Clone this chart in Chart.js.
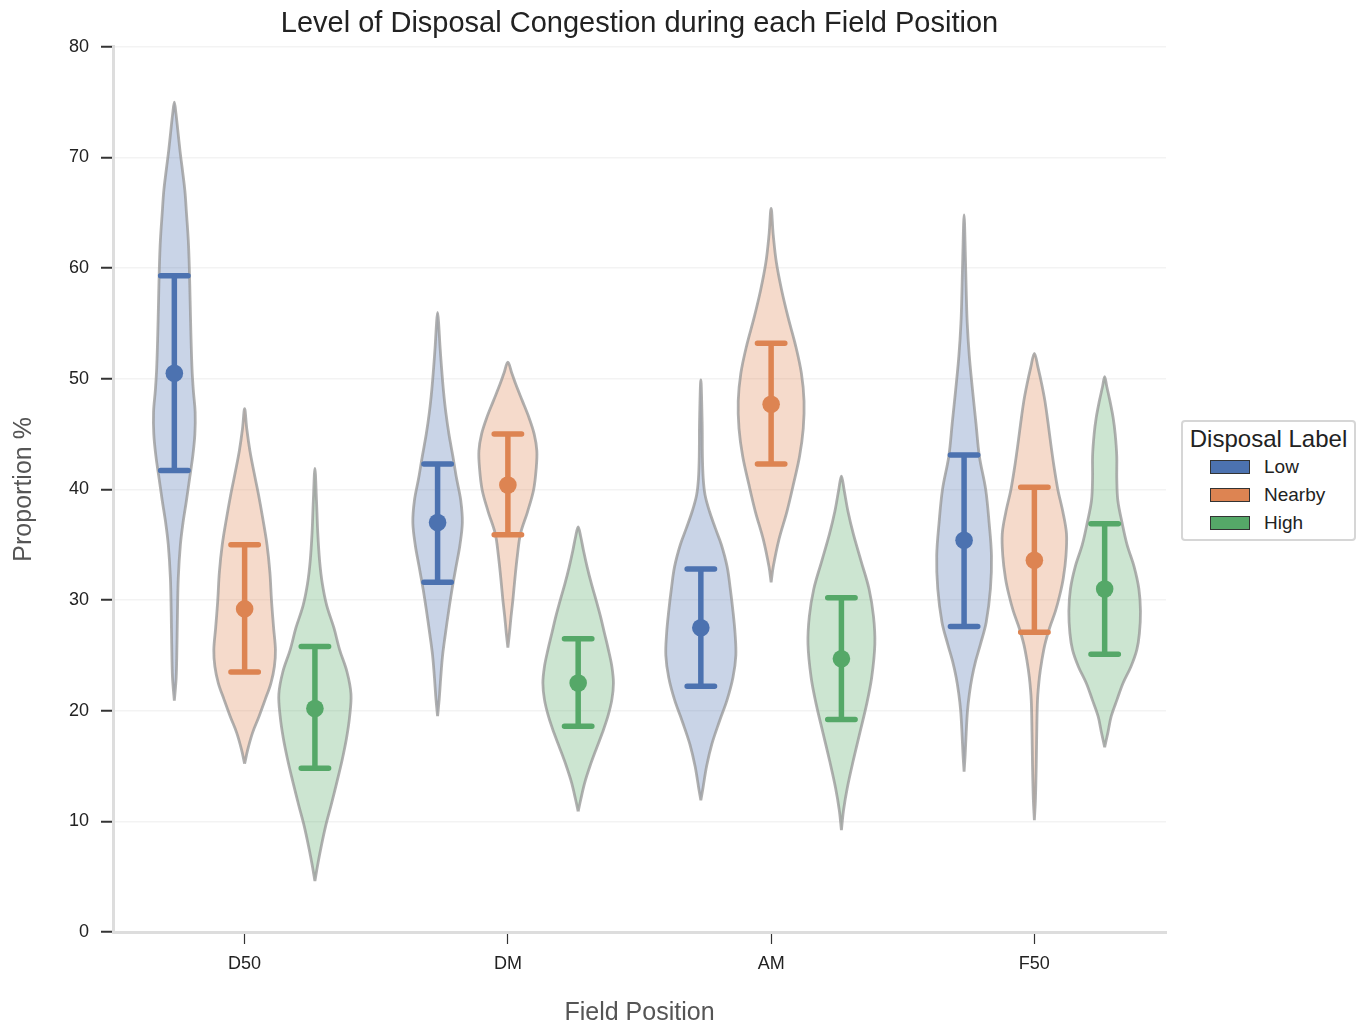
<!DOCTYPE html>
<html lang="en">
<head>
    <meta charset="UTF-8">
    <title>Level of Disposal Congestion during each Field Position</title>
    <script src="https://cdn.jsdelivr.net/npm/chart.js@4.4.1/dist/chart.umd.min.js"></script>
    <style>
        * {
            margin: 0;
            padding: 0;
            box-sizing: border-box;
        }

        body {
            background-color: #fff;
            font-family: 'Liberation Sans', Arial, sans-serif;
        }

        .wrap {
            position: relative;
            width: 1366px;
            height: 1022px;
        }

        .legend {
            position: absolute;
            left: 1181px;
            top: 420px;
            width: 175px;
            height: 121px;
            border: 2px solid #d6d6d6;
            border-radius: 4px;
            background: #fff;
            color: #222;
        }

        .legend-title {
            font-size: 24px;
            text-align: center;
            margin-top: 3px;
            line-height: 28px;
        }

        .legend-item {
            display: flex;
            align-items: center;
            height: 28px;
            font-size: 19px;
            padding-left: 27px;
        }

        .legend-patch {
            width: 40px;
            height: 14px;
            border: 1px solid #333;
            margin-right: 14px;
        }
    </style>
</head>
<body>
    <div class="wrap">
        <canvas id="violinChart" width="1366" height="1022"></canvas>
        <div class="legend" id="legend"></div>
    </div>

    <script>
        // Data
        const categories = ['D50', 'DM', 'AM', 'F50'];
        const hues = ['Low', 'Nearby', 'High'];

        const meanLow = [50.5, 37.0, 27.5, 35.4];
        const meanNearby = [29.2, 40.4, 47.7, 33.6];
        const meanHigh = [20.2, 22.5, 24.7, 31.0];

        const errLowerLow = [41.7, 31.6, 22.2, 27.6];
        const errUpperLow = [59.3, 42.3, 32.8, 43.1];
        const errLowerNearby = [23.5, 35.9, 42.3, 27.1];
        const errUpperNearby = [35.0, 45.0, 53.2, 40.2];
        const errLowerHigh = [14.8, 18.6, 19.2, 25.1];
        const errUpperHigh = [25.8, 26.5, 30.2, 36.9];

        // violin outlines: [proportion, half width in category units]
        const kdeD50Low = [[20.9,0],[23,0.007],[26,0.01],[29,0.012],[32,0.015],[35,0.023],[37,0.033],[39,0.046],[41,0.058],[43,0.07],[45,0.078],[47,0.079],[49,0.072],[51,0.067],[54,0.063],[57,0.06],[60,0.057],[62.5,0.053],[65,0.046],[67,0.04],[69,0.03],[70.5,0.022],[72.5,0.013],[74,0.006],[75,0]];
        const kdeD50Nearby = [[15.2,0],[16.5,0.012],[18,0.03],[19.5,0.055],[21,0.078],[22.5,0.1],[24,0.113],[25.5,0.117],[27.5,0.11],[30,0.102],[32.5,0.096],[35,0.085],[37.5,0.068],[39.5,0.053],[41.5,0.036],[43.5,0.02],[45.5,0.008],[47.3,0]];
        const kdeD50High = [[4.6,0],[6,0.01],[7.5,0.022],[9.5,0.04],[11.5,0.062],[13.5,0.083],[15.5,0.103],[17.5,0.12],[19.5,0.132],[21.5,0.137],[23.5,0.122],[25.5,0.094],[27.5,0.072],[29.5,0.045],[31.5,0.028],[33.5,0.018],[36,0.011],[39,0.006],[41.9,0]];
        const kdeDMLow = [[19.5,0],[21,0.006],[23,0.012],[25,0.019],[27,0.03],[29,0.042],[31,0.055],[33,0.07],[35,0.085],[37,0.094],[39,0.088],[41,0.072],[43,0.058],[45,0.043],[47,0.031],[49,0.022],[51,0.015],[53,0.009],[55,0.004],[56,0]];
        const kdeDMNearby = [[25.7,0],[27,0.006],[28.5,0.012],[30,0.019],[32,0.027],[34,0.036],[36,0.048],[38,0.075],[40,0.098],[42,0.108],[43.5,0.11],[45,0.1],[46.5,0.08],[48,0.055],[49.5,0.03],[50.5,0.015],[51.5,0]];
        const kdeDMHigh = [[10.9,0],[12,0.01],[13.5,0.025],[15,0.045],[16.5,0.068],[18,0.092],[19.5,0.113],[21,0.128],[22.5,0.134],[24,0.128],[25.5,0.115],[27,0.1],[28.5,0.085],[30,0.068],[31.5,0.05],[33,0.034],[34.5,0.02],[35.7,0.01],[36.6,0]];
        const kdeAMLow = [[11.9,0],[13,0.008],[15,0.022],[17,0.042],[19,0.07],[21,0.1],[23,0.122],[25,0.133],[27,0.13],[29,0.122],[31,0.112],[33,0.1],[35,0.078],[36.5,0.055],[38,0.033],[39.5,0.016],[41,0.009],[43,0.006],[46,0.005],[49.9,0]];
        const kdeAMNearby = [[31.6,0],[33,0.008],[35.5,0.03],[38,0.06],[40.5,0.085],[43,0.108],[45.5,0.122],[48,0.125],[50.5,0.115],[53,0.093],[55.5,0.065],[58,0.04],[60.5,0.02],[63,0.008],[65.4,0]];
        const kdeAMHigh = [[9.2,0],[11,0.008],[13,0.022],[15.5,0.045],[18,0.07],[20.5,0.095],[23,0.115],[26,0.127],[28.5,0.122],[31,0.105],[33.5,0.075],[36,0.045],[38,0.025],[40,0.01],[41.2,0]];
        const kdeF50Low = [[14.5,0],[16,0.004],[18,0.008],[20,0.013],[21.5,0.02],[23,0.03],[24.5,0.044],[26,0.062],[28,0.084],[31,0.1],[34,0.104],[37,0.095],[40,0.082],[43,0.058],[46,0.045],[49,0.032],[52,0.02],[55,0.012],[58,0.008],[61,0.005],[64.8,0]];
        const kdeF50Nearby = [[10.1,0],[12,0.004],[15,0.007],[18,0.009],[21,0.012],[23,0.019],[24.5,0.028],[26,0.04],[27.5,0.058],[29,0.08],[30.5,0.097],[32,0.11],[34,0.12],[36,0.122],[38,0.108],[40,0.089],[42,0.075],[44,0.063],[46,0.052],[48,0.04],[49.5,0.028],[51,0.014],[52.3,0]];
        const kdeF50High = [[16.7,0],[18,0.012],[19.5,0.025],[21,0.047],[22.5,0.07],[24,0.1],[25.5,0.122],[27,0.132],[29,0.136],[31,0.13],[33,0.112],[35,0.085],[37,0.066],[39,0.05],[41,0.046],[43,0.046],[45,0.04],[46.5,0.032],[48,0.02],[49.3,0.008],[50.2,0]];

        // grouping per hue
        const means = [meanLow, meanNearby, meanHigh];
        const errLower = [errLowerLow, errLowerNearby, errLowerHigh];
        const errUpper = [errUpperLow, errUpperNearby, errUpperHigh];
        const violins = [
            [kdeD50Low, kdeDMLow, kdeAMLow, kdeF50Low],
            [kdeD50Nearby, kdeDMNearby, kdeAMNearby, kdeF50Nearby],
            [kdeD50High, kdeDMHigh, kdeAMHigh, kdeF50High]
        ];

        // styling
        const colors = ['#4c72b0', '#dd8452', '#55a868'];
        const fills = ['rgba(76,114,176,0.3)', 'rgba(221,132,82,0.3)', 'rgba(85,168,104,0.3)'];
        const dodge = [-0.267, 0, 0.267];
        const capHalf = 0.052;

        Chart.defaults.font.family = "'Liberation Sans', Arial, sans-serif";
        Chart.defaults.color = '#222';

        const datasets = [];
        hues.forEach((hue, hi) => {
            const bars = [];
            const caps = [];
            const dots = [];
            categories.forEach((cat, ci) => {
                const x0 = ci + dodge[hi];
                const prof = violins[hi][ci];
                const right = prof.map(([y, w]) => ({ x: x0 + w, y: y }));
                const left = prof.slice(0, -1).reverse().map(([y, w]) => ({ x: x0 - w, y: y }));
                datasets.push({
                    type: 'line',
                    label: hue,
                    data: right.concat(left),
                    fill: 'shape',
                    backgroundColor: fills[hi],
                    borderColor: 'rgba(150,150,150,0.75)',
                    borderWidth: 2.8,
                    pointRadius: 0,
                    tension: 0.35,
                    order: 3
                });

                bars.push({ x: x0, y: errLower[hi][ci] }, { x: x0, y: errUpper[hi][ci] }, { x: x0, y: null });
                caps.push({ x: x0 - capHalf, y: errUpper[hi][ci] }, { x: x0 + capHalf, y: errUpper[hi][ci] }, { x: x0, y: null });
                caps.push({ x: x0 - capHalf, y: errLower[hi][ci] }, { x: x0 + capHalf, y: errLower[hi][ci] }, { x: x0, y: null });
                dots.push({ x: x0, y: means[hi][ci] });
            });

            datasets.push({
                type: 'line', label: hue, data: bars, borderColor: colors[hi],
                borderWidth: 5.5, pointRadius: 0, spanGaps: false, fill: false, order: 2
            });
            datasets.push({
                type: 'line', label: hue, data: caps, borderColor: colors[hi],
                borderWidth: 5.5, borderCapStyle: 'round', pointRadius: 0, spanGaps: false, fill: false, order: 2
            });
            datasets.push({
                type: 'scatter', label: hue, data: dots, backgroundColor: colors[hi],
                borderWidth: 0, pointRadius: 8.8, order: 1
            });
        });

        new Chart(document.getElementById('violinChart'), {
            type: 'scatter',
            data: { datasets: datasets },
            options: {
                responsive: false,
                animation: false,
                layout: { padding: { left: 0, right: 200, top: 0, bottom: 0 } },
                plugins: {
                    legend: { display: false },
                    tooltip: { enabled: false },
                    title: {
                        display: true,
                        text: 'Level of Disposal Congestion during each Field Position',
                        fullSize: false,
                        color: '#222',
                        font: { size: 29, weight: 'normal', lineHeight: 1.2 },
                        padding: { top: 7, bottom: 5 }
                    }
                },
                scales: {
                    x: {
                        type: 'linear',
                        min: -0.5,
                        max: 3.5,
                        afterBuildTicks: (scale) => {
                            scale.ticks = categories.map((c, i) => ({ value: i }));
                        },
                        afterFit: (scale) => { scale.height = 90; },
                        ticks: {
                            callback: (value) => categories[value],
                            autoSkip: false,
                            maxRotation: 0,
                            padding: 9,
                            color: '#222',
                            font: { size: 18 }
                        },
                        grid: {
                            drawOnChartArea: false,
                            tickLength: 12,
                            tickColor: '#333',
                            tickWidth: 1.2
                        },
                        border: { color: '#dddddd', width: 3 },
                        title: {
                            display: true,
                            text: 'Field Position',
                            color: '#555',
                            font: { size: 25, lineHeight: 1 },
                            padding: { top: 0, bottom: -4 }
                        }
                    },
                    y: {
                        min: 0,
                        max: 80,
                        afterFit: (scale) => { scale.width = 113; },
                        ticks: {
                            stepSize: 10,
                            padding: 12,
                            color: '#222',
                            font: { size: 18 }
                        },
                        grid: {
                            color: '#f3f3f3',
                            lineWidth: 1.5,
                            tickLength: 12,
                            tickColor: '#333',
                            tickWidth: 2
                        },
                        border: { color: '#dddddd', width: 3 },
                        title: {
                            display: true,
                            text: 'Proportion %',
                            color: '#555',
                            font: { size: 25, lineHeight: 1 },
                            padding: { top: 12, bottom: 0 }
                        }
                    }
                }
            }
        });

        // Legend
        const legend = document.getElementById('legend');
        legend.innerHTML = '<div class="legend-title">Disposal Label</div>' + hues.map((hue, i) => `
            <div class="legend-item">
                <span class="legend-patch" style="background:${colors[i]}"></span>${hue}
            </div>`).join('');
    </script>
</body>
</html>
